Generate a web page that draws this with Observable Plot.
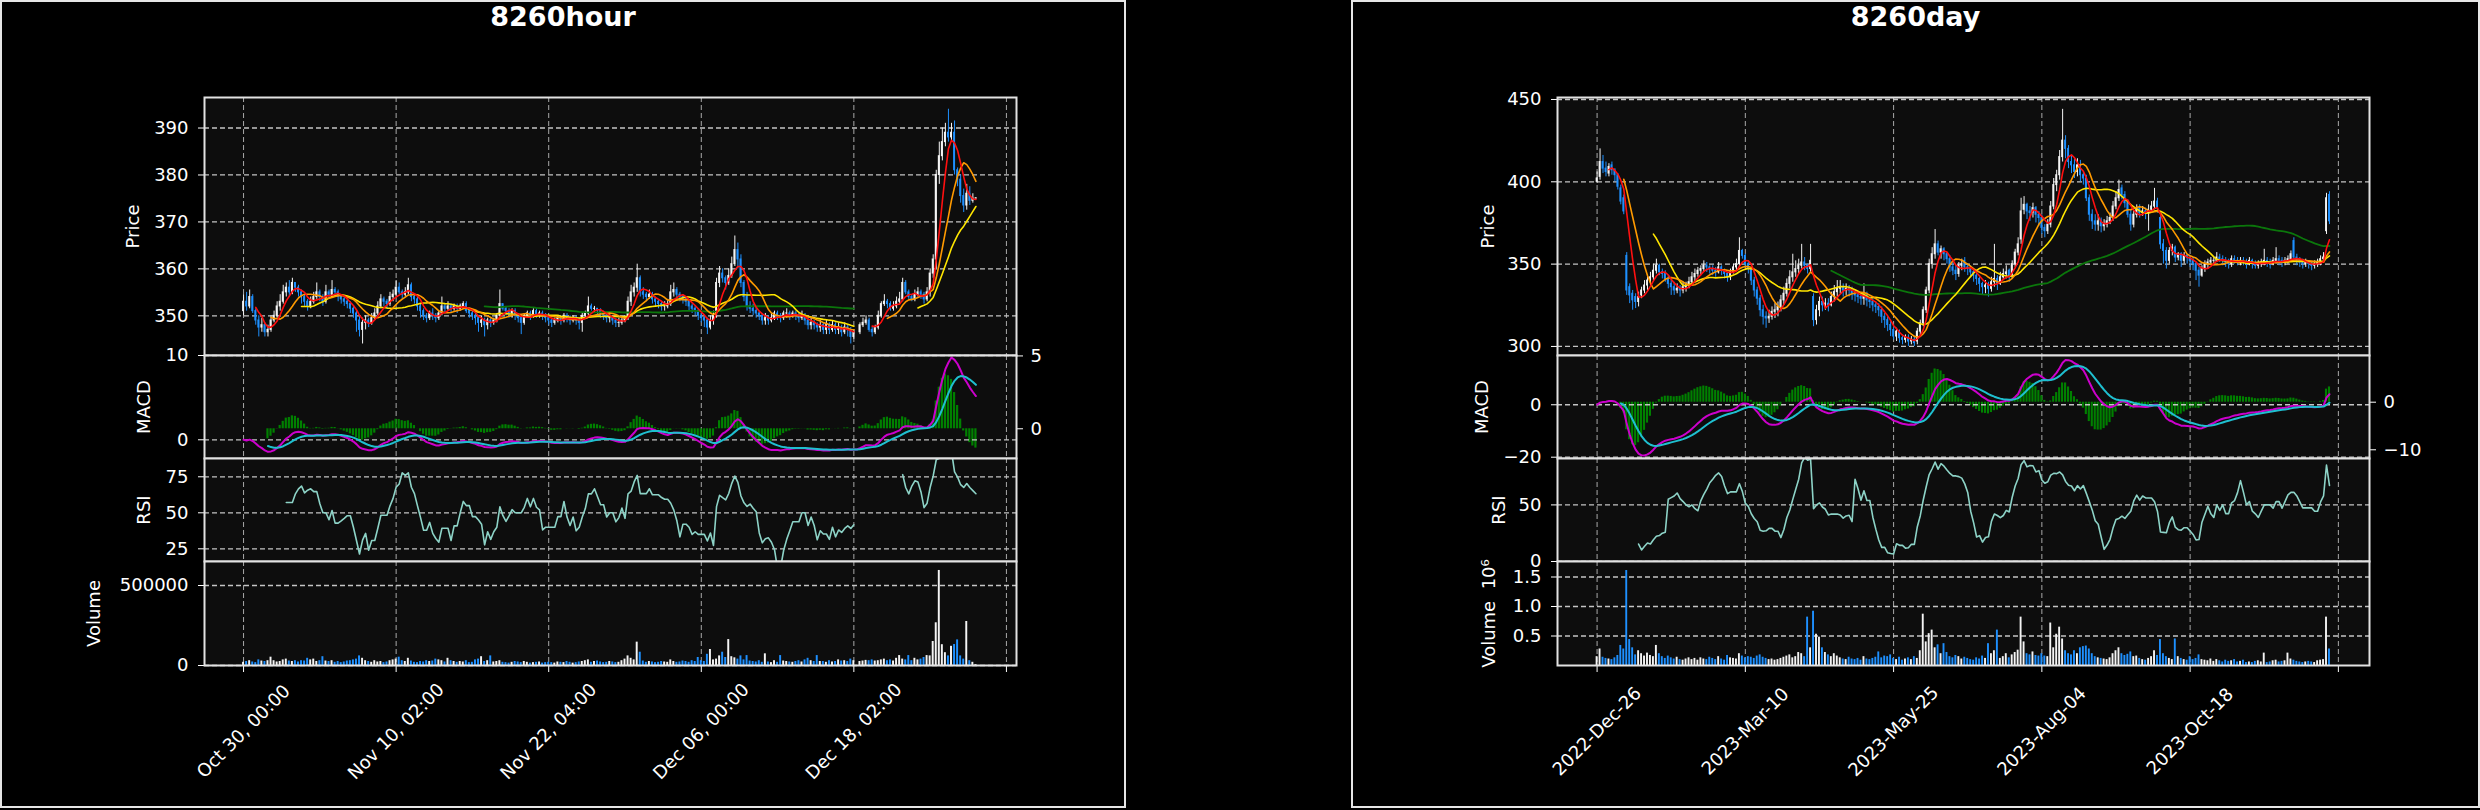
<!DOCTYPE html>
<html>
<head>
<meta charset="utf-8">
<script src="https://cdn.jsdelivr.net/npm/d3@7"></script>
<script src="https://cdn.jsdelivr.net/npm/@observablehq/plot@0.6"></script>
<style>
html,body{margin:0;padding:0;background:#000;}
#root{position:relative;width:2480px;height:810px;background:#000;overflow:hidden;font-family:"DejaVu Sans",sans-serif;}
.fig{position:absolute;top:0;height:808px;border:2px solid #e6e6e6;box-sizing:border-box;background:#000;}
.title{position:absolute;top:3px;width:400px;text-align:center;color:#fff;font-weight:bold;font-size:27px;line-height:27px;font-family:"DejaVu Sans",sans-serif;}
#root svg{overflow:visible;}
</style>
</head>
<body>
<div id="root"></div>
<script>
// ---------------- hourly chart data ----------------
const hourTitle = "8260hour";
const hourXTicks = [0, 50, 100, 150, 200, 250];
const hourXLabels = ["Oct 30, 00:00", "Nov 10, 02:00", "Nov 22, 04:00", "Dec 06, 00:00", "Dec 18, 02:00"];
const hourPriceTicks = [350, 360, 370, 380, 390];
const hourMacdTicks = [0, 10];
const hourHistTicks = [0, 5];
const hourRsiTicks = [25, 50, 75];
const hourVolTicks = [0, 500000];

const hourOpen = [
351,353,352,354,351,349,347.5,348,346.5,347,
349,350,352,353,355,356,355,357,356,355,
354,353,352,353,354,355,354,353,355,354.5,
355.5,355,354,353.5,353,352.5,351.5,350.5,349,347,
348.5,349,348.5,349.5,350.5,352,353.5,353,352.5,354,
354.5,356,355,354.5,355,356.5,354,353.5,352,351,
350,349.5,350.5,350,349.5,350.5,352,351.5,352,351.5,
352,351.5,352,352.5,351,350.5,350,349.5,348.5,349,
348,349,348.5,349,350,352.5,351.5,351,350.5,351,
350,349.5,348.5,350,350.5,350,351,350,350.5,350,
349.5,349,348.5,349,349.5,349,350,349.5,349,349.5,
349,348.5,350,350.5,352,351.5,351.5,351,350.5,350,
349.5,349.5,349,348.5,348.5,349,349.5,353,355,356,
358,355,354.5,354,354.5,353.5,353,352.5,352,352,
352.5,355,355.5,354.5,354,353.5,353,352,351.5,351,
350,349.5,349,347.5,349,350,357,359,358,357,
358.5,361,364,362,357,354,352,351.5,351,350.5,
350,349,349.5,349,349.5,350.5,350,349.5,350.5,350.5,
350,350.5,350,349.5,350,349,348,348.5,348,347.5,
348,347,348,347,348,347,347.5,346.5,347.5,347,
345.5,null,346.5,348,348.5,349,347,346.5,347.5,350,
352.5,353,352.5,351.5,352,353,353.5,357,355,354,
353.5,354.5,355,354.5,353.5,355,359,362,380,384,
387,389,388,389,381,379,375.5,373.5,376,374.5,
375];
const hourHigh = [
354.5,355,355.5,354.5,351.5,350,349.5,348.5,348,350,
351,353,354.5,356.5,357,357.5,358,357,356.5,355.5,
354.5,353.5,354,355,357,355.5,354.5,356.5,355.5,357.5,
356,355.5,354.5,354,353.5,353,352,351,350,349.5,
350,349.5,350.5,351.5,353,354.5,354,353.5,355,355.5,
357.5,357,355.5,356,358,357,354.5,354,352.5,351.5,
350.5,351,351.5,350.5,351,354,352.5,353,352.5,352.5,
352.5,352.5,353,353,351.5,351,350.5,350,350,349.5,
349.5,349.5,349.5,350.5,355.5,352.5,352,351.5,351.5,351.5,
350.5,350,350.5,351,351,351.5,351.5,351,351,350.5,
350,349.5,349.5,350,350,350.5,350.5,350,350,350,
349.5,350.5,351,354,352.5,352,351.5,351.5,351,350.5,
350.5,350,349.5,349.5,349.5,350,354,356.5,357,361,
358.5,356,355,355.5,355,354,353.5,353,353,353.5,
356.5,357,356,355,354.5,354,353.5,352.5,352,351.5,
350.5,350,349.5,350,351,358,360.5,360,358.5,360,
362.5,367,365.5,363,357.5,355,353,352.5,352,351,
350.5,350.5,350,350.5,351,351,350.5,351,351.5,351,
351,351,350.5,351,350.5,349.5,349.5,349,348.5,349,
348.5,349,348.5,349,348.5,348.5,348,348.5,348,347.5,
347,null,348.5,349.5,350,349.5,347.5,348,351,353,
354.5,353.5,353,353,354,355,358,357.5,355.5,354.5,
355.5,356,355.5,355,356,360,363,381,387,390,
391,394,391,391.5,381.5,380,377,378,377.5,376,
375.2];
const hourLow = [
350,351,351.5,350.5,348,345.5,346.5,345.5,345.5,346.5,
348.5,349.5,351,352.5,354,354,354.5,355,354,352.5,
352,351,351.5,352.5,353.5,353,352,352.5,353.5,354,
354,353,352.5,352,351.5,350.5,349.5,346.5,345.5,344,
347,347.5,348,349,350,351.5,352,351.5,352,353,
354,354.5,353.5,354,354.5,353,352.5,351,349.5,349,
348.5,349,349,348.5,349,350,350.5,351,350.5,351,
350.5,351,351.5,350.5,349.5,349,348,346.5,347.5,345.5,
347,347.5,348,348.5,349.5,351,350,349.5,349.5,349,
348.5,346,348,349.5,349,349.5,349.5,349.5,349,348.5,
348,347.5,348,348.5,348,348.5,348.5,348,348.5,348,
347,346.5,349.5,350,351,350.5,350,349.5,349,348.5,
348.5,348,347.5,347.5,348,348.5,349,352,354,355,
354,353.5,353,353.5,352.5,352,351.5,351,351,351.5,
352,354,353.5,353,352.5,352,351,350.5,350,349,
348.5,347.5,346,347,348,349.5,356,357,355.5,356.5,
358,360.5,360,356,353,351,350.5,350,349.5,349,
348,348,348,348.5,349,349,348.5,349,349.5,349,
349.5,349,348.5,349,348,347,347,347,346.5,346.5,
346,346,346,346.5,346,346,345.5,346,345.5,344,
345,null,346,347.5,348,346.5,345.5,346,347,349.5,
352,351.5,351,351,351.5,352.5,353,354.5,353.5,353,
353,354,353.5,352.5,353,354,358,360,378,383,
386,387,387,380,377.5,374,372,372.5,373.5,374,
374.8];
const hourClose = [
353,352,354,351,349,347.5,348,346.5,347,349,
350,352,353,355,356,355,357,356,355,354,
353,352,353,354,355,354,353,355,354.5,355.5,
355,354,353.5,353,352.5,351.5,350.5,349,347,348.5,
349,348.5,349.5,350.5,352,353.5,353,352.5,354,354.5,
356,355,354.5,355,356.5,354,353.5,352,351,350,
349.5,350.5,350,349.5,350.5,352,351.5,352,351.5,352,
351.5,352,352.5,351,350.5,350,349.5,348.5,349,348,
349,348.5,349,350,352.5,351.5,351,350.5,351,350,
349.5,348.5,350,350.5,350,351,350,350.5,350,349.5,
349,348.5,349,349.5,349,350,349.5,349,349.5,349,
348.5,350,350.5,352,351.5,351.5,351,350.5,350,349.5,
349.5,349,348.5,348.5,349,349.5,353,355,356,358,
355,354.5,354,354.5,353.5,353,352.5,352,352,352.5,
355,355.5,354.5,354,353.5,353,352,351.5,351,350,
349.5,349,347.5,349,350,357,359,358,357,358.5,
361,364,362,357,354,352,351.5,351,350.5,350,
349,349.5,349,349.5,350.5,350,349.5,350.5,350.5,350,
350.5,350,349.5,350,349,348,348.5,348,347.5,348,
347,348,347,348,347,347.5,346.5,347.5,347,345.5,
346.5,null,348,348.5,349,347,346.5,347.5,350,352.5,
353,352.5,351.5,352,353,353.5,357,355,354,353.5,
354.5,355,354.5,353.5,355,359,362,380,384,387,
389,388,389,381,379,375.5,373.5,376,374.5,375,
375];
// volume in thousands of shares
const hourVolumeK = [
20,25,30,22,18,35,28,25,30,52,
30,22,25,35,40,28,25,30,22,30,
28,45,35,40,25,30,55,28,25,30,
20,25,18,22,28,30,35,40,60,45,
30,25,20,30,22,25,18,22,30,35,
40,52,30,25,45,28,20,18,25,22,
30,25,28,40,35,30,22,45,30,25,
20,25,22,30,18,20,35,40,55,25,
30,60,22,25,30,20,18,15,20,25,
22,18,25,20,15,18,20,22,15,18,
20,18,15,22,20,18,25,20,15,18,
22,25,30,35,20,25,28,22,18,20,
25,22,18,20,30,40,60,45,35,146,
83,28,20,25,22,18,20,25,22,20,
35,25,20,22,28,25,20,30,25,50,
30,25,70,100,35,40,60,83,50,162,
55,48,40,60,35,62,28,25,22,30,
20,73,22,18,30,20,62,28,25,22,
20,25,30,22,35,45,30,25,62,25,
25,20,30,22,25,35,28,30,25,40,
30,null,25,28,32,30,35,28,30,35,
40,30,35,28,45,62,40,35,62,30,
45,35,40,50,62,60,150,267,594,130,
80,60,120,131,160,60,40,275,30,20,
5];

// ---------------- daily chart data ----------------
const dayTitle = "8260day";
const dayXTicks = [0, 50, 100, 150, 200, 250];
const dayXLabels = ["2022-Dec-26", "2023-Mar-10", "2023-May-25", "2023-Aug-04", "2023-Oct-18"];
const dayPriceTicks = [300, 350, 400, 450];
const dayMacdTicks = [-20, 0];
const dayHistTicks = [-10, 0];
const dayRsiTicks = [0, 50];
const dayVolTicks = [500000, 1000000, 1500000];

const dayOpen = [
400,403,412,408,405,410,407,404,396,390,
355,336,332,330,327,331,334,337,339,342,
346,349,345,344,341,338,336,334,335,334,
336,337,339,342,344,346,347,349,348,347,
346,345,348,346,344,342,345,348,350,358,
355,350,347,340,334,329,322,318,317,318,
321,322,324,328,332,338,342,345,347,349,
351,349,347,330,316,322,327,325,326,325,
330,333,335,336,334,335,334,332,331,330,
329,331,328,327,325,324,322,318,316,313,
310,306,309,305,304,305,303,304,303,309,
314,322,334,350,356,362,357,359,356,353,
348,346,344,349,352,348,347,345,343,341,
338,336,337,335,339,341,338,342,344,346,
343,350,357,365,383,386,382,381,384,380,
378,372,370,374,385,398,404,415,425,420,
412,410,406,410,404,402,390,380,376,374,
376,373,374,376,378,385,390,396,392,387,
380,374,380,384,381,382,381,383,385,388,
378,362,358,352,358,360,354,356,352,355,
354,352,350,346,343,347,350,351,352,352,
354,353,352,351,350,353,352,351,352,351,
350,352,350,349,350,351,352,351,350,352,
353,352,351,352,353,364,354,352,351,350,
351,350,349,350,351,353,370,392];
const dayHigh = [
406,420,416,412,411,412,408,405,398,392,
357,338,334,332,333,336,340,343,345,350,
353,350,347,346,343,341,339,338,337,339,
339,342,345,347,348,349,352,351,349,349,
348,351,349,347,345,347,350,353,366,359,
356,352,348,342,336,331,325,321,322,324,
326,327,331,336,341,346,356,352,353,362,
354,350,362,332,325,330,330,329,329,333,
337,340,340,338,338,337,336,334,333,332,
338,333,330,329,327,326,324,320,318,315,
312,311,310,307,307,307,306,306,311,316,
324,336,353,360,371,364,361,360,357,355,
351,349,351,353,354,350,349,347,345,343,
339,340,339,342,362,343,345,347,349,347,
352,359,366,390,391,387,385,387,385,382,
380,374,377,388,402,407,419,444,428,422,
416,414,414,413,406,404,392,383,380,380,
378,377,379,381,388,394,401,398,394,389,
383,382,386,386,385,384,386,388,396,390,
380,365,360,360,362,361,357,357,357,356,
355,354,351,348,349,352,353,354,354,357,
356,355,354,353,355,355,354,354,354,353,
354,353,352,352,353,359,354,353,354,360,
355,354,354,355,358,366,356,354,353,353,
352,351,352,353,355,357,393,394];
const dayLow = [
399,401,405,403,403,404,400,395,386,380,
331,326,322,323,324,329,332,334,337,340,
344,343,341,339,335,331,331,332,330,332,
333,335,337,339,342,343,345,345,344,343,
342,344,343,341,339,340,344,346,348,353,
348,344,337,330,325,318,313,311,314,316,
317,318,321,325,330,335,339,342,344,347,
346,344,345,312,313,318,321,322,321,324,
327,330,332,330,331,330,328,327,326,325,
325,324,323,321,320,318,314,311,309,306,
304,303,302,301,302,300,301,300,301,306,
312,320,332,347,353,355,353,352,350,345,
343,340,342,346,345,343,342,339,337,333,
331,332,330,333,336,334,337,340,341,339,
341,348,355,362,380,377,376,378,375,373,
368,366,368,372,383,394,401,412,414,408,
405,402,403,400,398,388,376,371,370,370,
369,370,372,374,376,383,388,389,384,378,
370,372,378,378,379,377,370,381,383,381,
359,350,347,350,355,351,352,348,350,350,
348,346,340,336,342,345,347,349,349,351,
351,349,348,347,348,350,349,349,349,347,
349,347,347,347,348,349,348,347,349,350,
349,348,349,350,351,352,349,348,347,348,
347,346,347,348,349,351,368,374];
const dayClose = [
402,412,408,406,409,407,404,397,388,382,
334,331,328,327,330,334,337,340,342,346,
349,345,344,341,338,336,334,335,334,336,
337,339,342,344,346,347,349,348,347,346,
345,348,346,344,342,345,348,350,358,355,
350,347,340,334,329,322,318,317,318,321,
322,324,328,332,338,342,345,347,349,351,
349,347,352,316,322,327,325,326,325,330,
333,335,336,334,335,334,332,331,330,329,
331,328,327,325,324,322,318,316,313,310,
306,309,305,304,305,303,304,302,309,314,
322,334,350,356,362,357,359,356,353,348,
346,344,349,350,348,347,345,343,341,338,
336,337,335,339,341,338,342,344,345,343,
350,357,362,382,386,382,381,384,380,378,
372,370,374,385,398,404,415,425,420,412,
410,406,410,404,402,390,380,376,374,376,
373,374,376,378,385,390,395,392,387,380,
374,380,384,381,382,381,383,385,388,384,
362,358,352,358,360,354,356,352,355,354,
352,350,346,343,347,350,351,352,352,354,
353,352,351,350,353,352,351,352,351,350,
352,350,349,350,351,352,351,350,352,353,
352,351,352,353,356,354,352,351,350,351,
350,349,350,351,353,354,390,376];
const dayVolumeK = [
150,280,140,120,110,100,130,170,340,280,
1610,440,300,180,250,200,160,210,170,150,
340,200,150,120,160,130,110,140,100,90,
110,130,100,120,90,130,110,100,140,120,
100,150,110,90,170,130,120,110,200,160,
130,150,140,120,160,180,140,120,100,110,
90,100,120,140,160,180,130,150,220,200,
150,820,300,920,530,480,300,220,180,150,
200,160,130,110,100,140,110,100,120,90,
150,110,100,120,140,230,130,160,150,180,
120,100,140,90,110,130,100,150,120,250,
870,400,540,600,300,350,200,370,220,150,
130,170,150,110,140,120,100,90,130,110,
160,120,370,200,250,600,120,150,200,130,
180,220,260,820,400,200,180,230,170,160,
200,160,150,720,300,530,650,450,250,200,
180,250,200,300,320,330,280,200,150,130,
120,110,100,130,200,250,300,200,170,190,
230,150,160,120,100,90,120,150,250,170,
440,200,150,120,100,450,150,120,100,90,
150,100,120,180,100,90,80,110,70,100,
80,60,90,70,80,100,60,70,90,50,
60,50,70,80,60,210,50,60,80,90,
60,70,80,210,110,90,70,60,50,60,
70,60,50,80,90,100,820,280];

// ---------------- indicator helpers (computed from the closes, as the original chart did) ----------------
function sma(a, k) {
  return a.map((_, i) => {
    if (i < k - 1) return null;
    let s = 0;
    for (let j = i - k + 1; j <= i; j++) { if (a[j] == null) return null; s += a[j]; }
    return s / k;
  });
}
function ema(a, span) {
  const al = 2 / (span + 1); let p = null;
  return a.map(v => { if (v == null) return p; p = p == null ? v : al * v + (1 - al) * p; return p; });
}
function rsi(a, k) {
  const g = a.map((v, i) => (i === 0 || v == null || a[i - 1] == null) ? null : Math.max(v - a[i - 1], 0));
  const l = a.map((v, i) => (i === 0 || v == null || a[i - 1] == null) ? null : Math.max(a[i - 1] - v, 0));
  const G = sma(g, k), L = sma(l, k);
  return G.map((x, i) => (x == null || L[i] == null) ? null : (L[i] === 0 ? 100 : 100 - 100 / (1 + x / L[i])));
}

const root = document.getElementById("root");
const UP = "#f4f4f4", DOWN = "#1e90ff";
const GRID = "#c4c4c4";
const PY = [97, 355, 458, 561, 665];
const minus = d => d < 0 ? "\u2212" + Math.abs(d) : String(d);

function place(svg, left, top) {
  svg.style.position = "absolute";
  svg.style.left = left + "px";
  svg.style.top = top + "px";
  root.appendChild(svg);
}
function panel(fx0, fx1, y0, y1, xDomain, yDomain, marks, mb = 14) {
  const ML = 170, MR = 90, MT = 14;
  const svg = Plot.plot({
    width: fx1 - fx0 + ML + MR, height: y1 - y0 + MT + mb,
    marginLeft: ML, marginRight: MR, marginTop: MT, marginBottom: mb,
    x: {type: "linear", domain: xDomain, axis: null},
    y: {type: "linear", domain: yDomain, axis: null},
    style: {background: "transparent", color: "#ffffff", fontSize: "18px", fontFamily: "'DejaVu Sans', sans-serif", overflow: "visible"},
    marks
  });
  place(svg, fx0 - ML, y0 - MT);
}

function drawChart(cfg) {
  const {figLeft, figWidth, fx0, fx1, xDomain, title, open, high, low, close, volK,
         xTicks, xLabels, priceTicks, macdTicks, histTicks, rsiTicks, volTicks, volFmt,
         dom, lab} = cfg;

  const fig = document.createElement("div");
  fig.className = "fig"; fig.style.left = figLeft + "px"; fig.style.width = figWidth + "px";
  root.appendChild(fig);
  const t = document.createElement("div");
  t.className = "title"; t.textContent = title;
  t.style.left = (figLeft + figWidth / 2 - 200) + "px";
  root.appendChild(t);

  const rows = close.map((c, i) => ({i, o: open[i], h: high[i], l: low[i], c, v: volK[i] == null ? null : volK[i] * 1000}))
    .filter(d => d.c != null);
  const up = rows.filter(d => d.c >= d.o), dn = rows.filter(d => d.c < d.o);
  const idx = close.map((_, i) => i);
  const ma5 = sma(close, 5), ma10 = sma(close, 10), ma20 = sma(close, 20), ma80 = sma(close, 80);
  const e12 = ema(close, 12), e26 = ema(close, 26);
  const macd = idx.map(i => e12[i] - e26[i]);
  const sig0 = ema(macd, 9);
  const signal = idx.map(i => i < 8 ? null : sig0[i]);
  const hist = idx.map(i => signal[i] == null ? null : macd[i] - signal[i]);
  const r = rsi(close, 14);

  const bg = Plot.frame({fill: "#0d0d0d"});
  const border = Plot.frame({stroke: "#e2e2e2", strokeWidth: 2});
  const vgrid = Plot.ruleX(xTicks, {stroke: GRID, strokeOpacity: 0.85, strokeWidth: 1, strokeDasharray: "5,3"});
  const hgrid = ticks => Plot.ruleY(ticks, {stroke: GRID, strokeWidth: 1.3, strokeDasharray: "5,3"});
  const yAxis = (ticks, fmt, anchor = "left") => Plot.axisY(ticks, {anchor, tickSize: 6, tickPadding: anchor === "left" ? 10 : 8, label: null, tickFormat: fmt});
  const ylabel = (text, dx) => Plot.text([text], {text: d => d, frameAnchor: "left", dx, rotate: -90, fill: "#ffffff", fontSize: 18, textAnchor: "middle", lineAnchor: "middle"});
  const line = (vals, color, w = 1.6) => Plot.line(idx, {x: i => i, y: i => vals[i], stroke: color, strokeWidth: w, clip: true});
  const W = 0.32;

  // price panel
  panel(fx0, fx1, PY[0], PY[1], xDomain, dom.price, [
    bg, vgrid, hgrid(priceTicks),
    Plot.ruleX(up, {x: "i", y1: "l", y2: "h", stroke: UP, strokeWidth: 1}),
    Plot.ruleX(dn, {x: "i", y1: "l", y2: "h", stroke: DOWN, strokeWidth: 1}),
    Plot.rect(up, {x1: d => d.i - W, x2: d => d.i + W, y1: "o", y2: "c", fill: UP, insetTop: -0.5, insetBottom: -0.5}),
    Plot.rect(dn, {x1: d => d.i - W, x2: d => d.i + W, y1: "o", y2: "c", fill: DOWN, insetTop: -0.5, insetBottom: -0.5}),
    line(ma80, "#0b760b", 1.8),
    line(ma20, "#ffe600", 1.6),
    line(ma10, "#ff9a00", 1.6),
    line(ma5, "#ff1010", 1.6),
    yAxis(priceTicks, minus),
    ylabel("Price", lab.price),
    border
  ]);

  // MACD panel: histogram on the secondary (right) axis
  const histRows = idx.filter(i => hist[i] != null);
  panel(fx0, fx1, PY[1], PY[2], xDomain, dom.hist, [
    bg, vgrid,
    Plot.rect(histRows, {x1: i => i - 0.36, x2: i => i + 0.36, y1: 0, y2: i => hist[i], fill: "#008000", clip: true}),
    yAxis(histTicks, minus, "right")
  ]);
  panel(fx0, fx1, PY[1], PY[2], xDomain, dom.macd, [
    hgrid(macdTicks),
    line(macd, "#cc00cc", 2),
    line(signal, "#1fbfd0", 2),
    yAxis(macdTicks, minus),
    ylabel("MACD", lab.macd),
    border
  ]);

  // RSI panel
  panel(fx0, fx1, PY[2], PY[3], xDomain, dom.rsi, [
    bg, vgrid, hgrid(rsiTicks),
    line(r, "#8dd3c7", 1.6),
    yAxis(rsiTicks, minus),
    ylabel("RSI", lab.rsi),
    border
  ]);

  // Volume panel
  const vup = up.filter(d => d.v != null), vdn = dn.filter(d => d.v != null);
  const labelData = xLabels.map((s, k) => ({t: xTicks[k], s}));
  panel(fx0, fx1, PY[3], PY[4], xDomain, dom.vol, [
    bg, vgrid, hgrid(volTicks),
    Plot.rect(vup, {x1: d => d.i - W, x2: d => d.i + W, y1: 0, y2: "v", fill: UP}),
    Plot.rect(vdn, {x1: d => d.i - W, x2: d => d.i + W, y1: 0, y2: "v", fill: DOWN}),
    yAxis(volTicks, volFmt),
    Plot.axisX(xTicks, {anchor: "bottom", tickSize: 7, tickFormat: () => "", label: null}),
    Plot.text(labelData, {x: "t", text: "s", frameAnchor: "bottom", dy: 66, rotate: -45, fill: "#ffffff", fontSize: 18, textAnchor: "middle", lineAnchor: "middle"}),
    ylabel(lab.volText, lab.vol),
    border
  ], 150);
}

drawChart({
  figLeft: 0, figWidth: 1126, fx0: 204, fx1: 1016, xDomain: [-12.8, 253.3], title: hourTitle,
  open: hourOpen, high: hourHigh, low: hourLow, close: hourClose, volK: hourVolumeK,
  xTicks: hourXTicks, xLabels: hourXLabels, priceTicks: hourPriceTicks, macdTicks: hourMacdTicks,
  histTicks: hourHistTicks, rsiTicks: hourRsiTicks, volTicks: hourVolTicks, volFmt: d => String(d),
  dom: {price: [341.55, 396.5], macd: [-2.22, 10], hist: [-2.04, 5.03], rsi: [16.2, 87.7], vol: [0, 650000]},
  lab: {price: -71, macd: -60, rsi: -60, vol: -110, volText: "Volume"}
});
drawChart({
  figLeft: 1351, figWidth: 1129, fx0: 1557, fx1: 2369, xDomain: [-13.35, 260.5], title: dayTitle,
  open: dayOpen, high: dayHigh, low: dayLow, close: dayClose, volK: dayVolumeK,
  xTicks: dayXTicks, xLabels: dayXLabels, priceTicks: dayPriceTicks, macdTicks: dayMacdTicks,
  histTicks: dayHistTicks, rsiTicks: dayRsiTicks, volTicks: dayVolTicks, volFmt: d => (d / 1e6).toFixed(1),
  dom: {price: [294.5, 451.2], macd: [-20.5, 18.8], hist: [-11.83, 9.81], rsi: [0, 91], vol: [0, 1763000]},
  lab: {price: -69, macd: -75, rsi: -58, vol: -68, volText: "Volume  10\u2076"}
});
</script>
</body>
</html>
